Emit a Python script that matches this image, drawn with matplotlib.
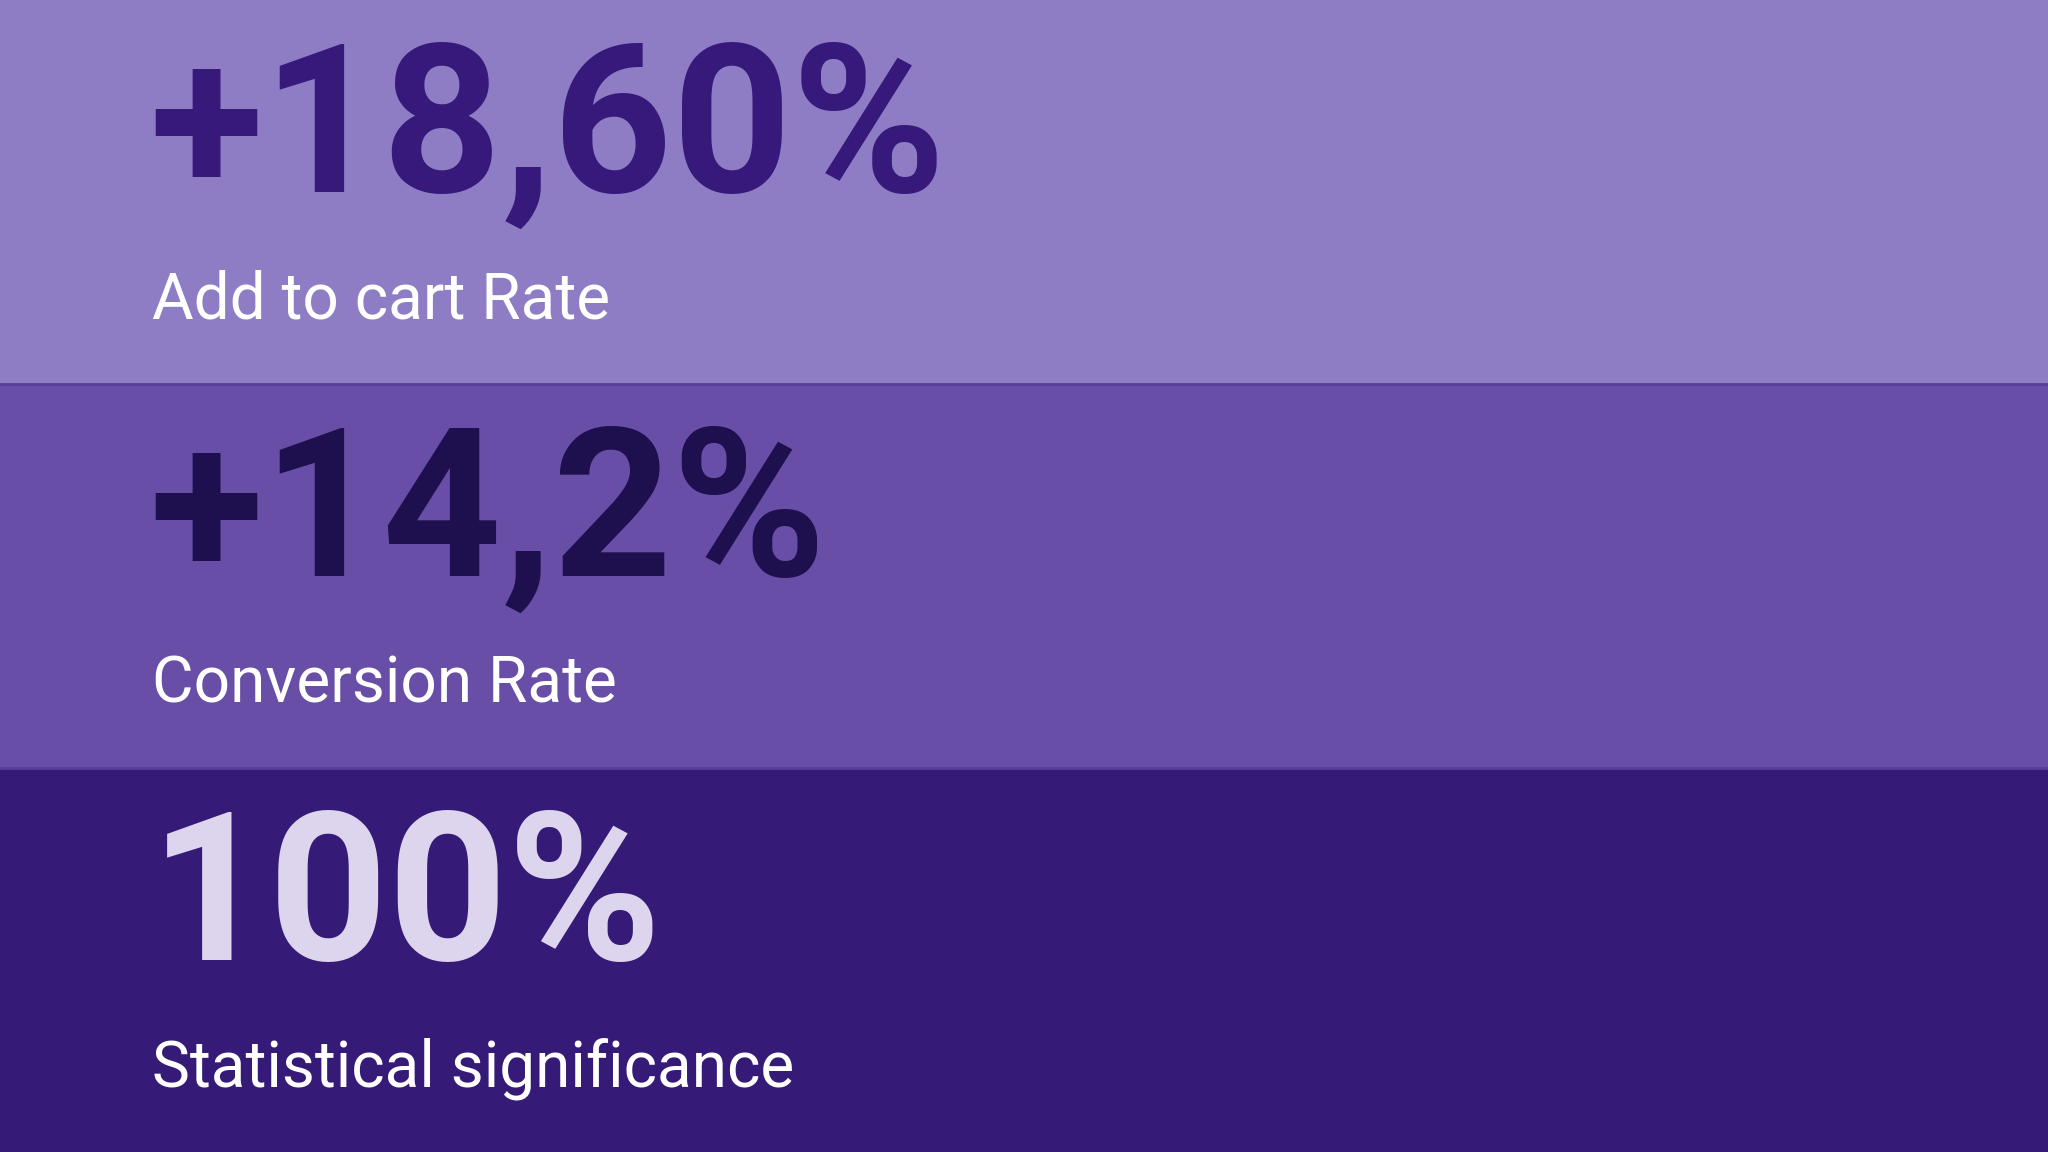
import matplotlib.pyplot as plt

# KPI tiles data
values = ["+18,60%", "+14,2%", "100%"]
labels = ["Add to cart Rate", "Conversion Rate", "Statistical significance"]

band_colors = ["#8E7DC5", "#684EA7", "#361A77"]
value_colors = ["#36197A", "#1E0F4E", "#DDD5EE"]

fig = plt.figure(figsize=(20.48, 11.52), dpi=100)
ax = fig.add_axes([0, 0, 1, 1])
ax.set_xlim(0, 1)
ax.set_ylim(0, 3)
ax.axis("off")

n = len(values)
for i, (v, lab) in enumerate(zip(values, labels)):
    top = n - i
    ax.axhspan(top - 1, top, color=band_colors[i], lw=0)
    # divider line between bands
    if i > 0:
        ax.axhline(top, color="#5A3F98", lw=2)
    ax.text(0.073, top - 0.50, v, fontsize=150, fontweight="bold",
            family="Roboto", color=value_colors[i], va="baseline", ha="left")
    ax.text(0.074, top - 0.83, lab, fontsize=46, family="Roboto",
            color="white", va="baseline", ha="left")

fig.savefig("out.png", dpi=100)
